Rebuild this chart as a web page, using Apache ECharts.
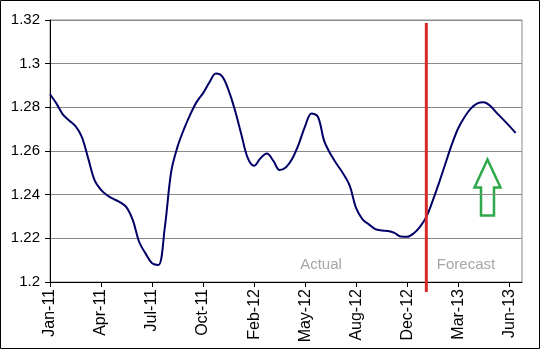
<!DOCTYPE html>
<html>
<head>
<meta charset="utf-8">
<script src="https://cdn.jsdelivr.net/npm/echarts@6/dist/echarts.min.js"></script>
<style>
html, body { margin: 0; padding: 0; background: #fff; }
#chart { width: 541px; height: 351px; }
</style>
</head>
<body>
<div id="chart"></div>
<script>
// tick labels, one every 8 points
const tickLabels = ['Jan-11', 'Apr-11', 'Jul-11', 'Oct-11', 'Feb-12', 'May-12', 'Aug-12', 'Dec-12', 'Mar-13', 'Jun-13'];
const pointsPerTick = 8;
const axisPoints = 75;

// rate values
const rateValues = [
    1.2860, 1.2818, 1.2768, 1.2740, 1.2714, 1.2664, 1.2565, 1.2465, 1.2422, 1.2396,
    1.2380, 1.2365, 1.2342, 1.2282, 1.2182, 1.2130, 1.2086, 1.2078, 1.2250, 1.2505,
    1.2620, 1.2700, 1.2768, 1.2825, 1.2865, 1.2915, 1.2955, 1.2942, 1.2878, 1.2787,
    1.2676, 1.2568, 1.2532, 1.2567, 1.2588, 1.2556, 1.2513, 1.2526, 1.2566, 1.2632,
    1.2714, 1.2772, 1.2757, 1.2645, 1.2585, 1.2538, 1.2495, 1.2440, 1.2338, 1.2287,
    1.2264, 1.2242, 1.2236, 1.2234, 1.2225, 1.2208, 1.2207, 1.2222, 1.2252, 1.2298,
    1.2372, 1.2455, 1.2543, 1.2630, 1.2704, 1.2756, 1.2795, 1.2818, 1.2823, 1.2807,
    1.2776, 1.2746, 1.2715, 1.2683
];

const forecastStart = 59;   // index where the forecast begins

const categories = [];
for (let i = 0; i < axisPoints; i++) categories.push(String(i));

const chart = echarts.init(document.getElementById('chart'), null, { renderer: 'canvas' });
const font = '"Liberation Sans", Arial, sans-serif';

const option = {
    animation: false,
    backgroundColor: '#fff',
    grid: [
        {
            left: 50, right: 19, top: 20, bottom: 69,
            show: true, borderColor: '#8a8a8a', borderWidth: 1
        },
        // taller overlay grid so the divider runs past the x axis
        { left: 50, right: 19, top: 23, bottom: 59 }
    ],
    xAxis: [
        {
            type: 'category',
            gridIndex: 0,
            data: categories,
            boundaryGap: false,
            axisLine: { lineStyle: { color: '#000', width: 1 } },
            axisTick: { show: true, interval: pointsPerTick - 1, length: 5, lineStyle: { color: '#000' } },
            axisLabel: {
                interval: pointsPerTick - 1,
                rotate: 90,
                margin: 7,
                color: '#000',
                fontFamily: font,
                fontSize: 16,
                formatter: function (v, idx) {
                    return idx % pointsPerTick === 0 ? (tickLabels[idx / pointsPerTick] || '') : '';
                }
            },
            splitLine: { show: false }
        },
        { type: 'category', gridIndex: 1, data: categories, boundaryGap: false, show: false }
    ],
    yAxis: [
        {
            type: 'value',
            gridIndex: 0,
            min: 1.2,
            max: 1.32,
            interval: 0.02,
            axisLine: { show: true, lineStyle: { color: '#000', width: 1 } },
            axisTick: { show: true, length: 5, lineStyle: { color: '#000' } },
            axisLabel: { color: '#000', fontFamily: font, fontSize: 15, margin: 10 },
            splitLine: { show: true, lineStyle: { color: '#8a8a8a', width: 1 } }
        },
        { type: 'value', gridIndex: 1, min: 0, max: 1, show: false, splitLine: { show: false } }
    ],
    series: [
        {
            type: 'line',
            xAxisIndex: 0, yAxisIndex: 0,
            data: rateValues,
            smooth: 0.35,
            symbol: 'none',
            lineStyle: { color: '#000066', width: 2 },
            z: 3
        },
        {
            type: 'line',
            xAxisIndex: 1, yAxisIndex: 1,
            data: [[forecastStart, 0], [forecastStart, 1]],
            symbol: 'none',
            lineStyle: { color: '#d62a2a', width: 3 },
            silent: true,
            z: 4
        }
    ],
    graphic: [
        {
            type: 'rect',
            shape: { x: 0.5, y: 0.5, width: 539, height: 348 },
            style: { fill: 'none', stroke: '#000', lineWidth: 1 },
            silent: true
        },
        {
            type: 'text',
            x: 321, y: 265,
            style: { text: 'Actual', fill: '#a6a6a6', font: '15px ' + font, textAlign: 'center', textVerticalAlign: 'middle' },
            silent: true
        },
        {
            type: 'text',
            x: 466, y: 265,
            style: { text: 'Forecast', fill: '#a6a6a6', font: '15px ' + font, textAlign: 'center', textVerticalAlign: 'middle' },
            silent: true
        },
        {
            // green up arrow
            type: 'polygon',
            shape: {
                points: [[487.5, 159.5], [500.5, 187.5], [494, 187.5], [494, 215.5], [481, 215.5], [481, 187.5], [474.5, 187.5]]
            },
            style: { fill: 'none', stroke: '#2ea84a', lineWidth: 2.5 },
            silent: true
        }
    ]
};

chart.setOption(option);
</script>
</body>
</html>
